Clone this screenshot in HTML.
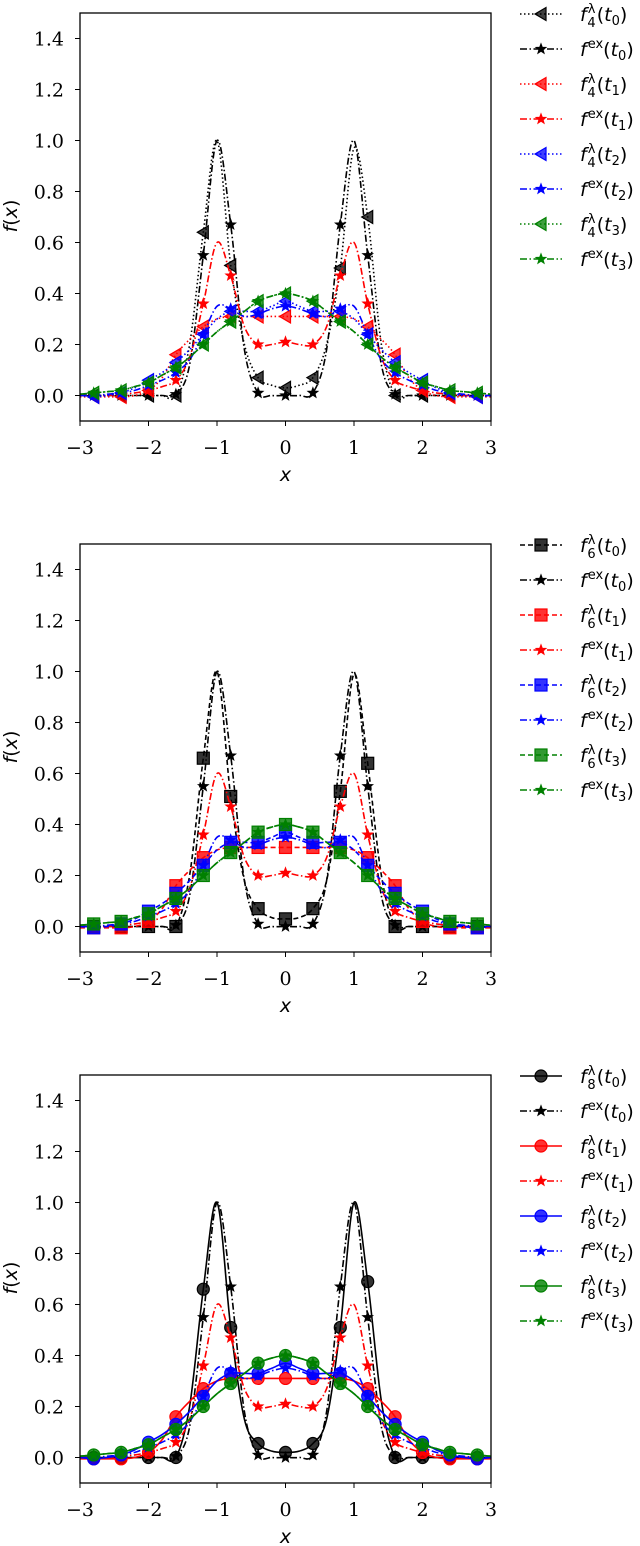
<!DOCTYPE html>
<html><head><meta charset="utf-8"><style>
body{margin:0;background:#fff}
svg{display:block}
.tick{font-family:"DejaVu Serif","Liberation Serif",serif;font-size:19px;fill:#000}
.leg{font-family:"DejaVu Sans","Liberation Sans",sans-serif;font-size:19px;fill:#000}
</style></head><body>
<svg id="fig" width="640" height="1546" viewBox="0 0 640 1546" xmlns="http://www.w3.org/2000/svg"></svg>
<script>
// x grid: -3 to 3 step 0.2 (31 values); markers on every other point (x=-2.8..2.8)
const xGrid = [-3,-2.8,-2.6,-2.4,-2.2,-2,-1.8,-1.6,-1.4,-1.2,-1,-0.8,-0.6,-0.4,-0.2,0,0.2,0.4,0.6,0.8,1,1.2,1.4,1.6,1.8,2,2.2,2.4,2.6,2.8,3];
const exT0 = [0,0,0,0,0,0,0,0.005,0.12,0.55,1.0,0.67,0.18,0.01,0,0,0,0.01,0.18,0.67,1.0,0.55,0.12,0.005,0,0,0,0,0,0,0];
const exT1 = [0,0,0,0.005,0.01,0.02,0.035,0.06,0.15,0.36,0.60,0.47,0.27,0.2,0.2,0.21,0.2,0.2,0.27,0.47,0.60,0.36,0.15,0.06,0.035,0.02,0.01,0.005,0,0,0];
const exT2 = [0,0,0.005,0.01,0.02,0.04,0.06,0.09,0.14,0.24,0.35,0.34,0.31,0.32,0.34,0.35,0.34,0.32,0.31,0.34,0.35,0.24,0.14,0.09,0.06,0.04,0.02,0.01,0.005,0,0];
const exT3 = [0.005,0.01,0.015,0.02,0.035,0.05,0.08,0.11,0.15,0.2,0.25,0.29,0.33,0.37,0.39,0.4,0.39,0.37,0.33,0.29,0.25,0.2,0.15,0.11,0.08,0.05,0.035,0.02,0.015,0.01,0.005];
const apT0p1 = [0,0,0,0,0,0,0,0,0.2,0.64,1.0,0.51,0.2,0.07,0.04,0.03,0.04,0.07,0.2,0.5,0.97,0.70,0.2,0,0,0,0,0,0,0,0];
const apT0p2 = [0,0,0,0,0,0,0,0,0.2,0.66,1.0,0.51,0.18,0.07,0.035,0.03,0.035,0.07,0.18,0.53,0.99,0.64,0.2,0,0,0,0,0,0,0,0];
const apT0p3 = [0,0,0,0,0,0,0,0,0.2,0.66,1.0,0.51,0.15,0.055,0.025,0.02,0.025,0.055,0.15,0.51,1.0,0.69,0.22,0,0,0,0,0,0,0,0];
const apT1 = [-0.005,-0.005,-0.005,-0.005,0,0.02,0.07,0.16,0.22,0.27,0.30,0.31,0.31,0.31,0.31,0.31,0.31,0.31,0.31,0.31,0.30,0.27,0.22,0.16,0.07,0.02,0,-0.005,-0.005,-0.005,-0.005];
const apT2 = [0,-0.005,0,0.01,0.03,0.06,0.09,0.13,0.18,0.24,0.3,0.33,0.33,0.33,0.35,0.37,0.35,0.33,0.33,0.33,0.3,0.24,0.18,0.13,0.09,0.06,0.03,0.01,0,-0.005,0];
const apT3 = [0.005,0.01,0.015,0.02,0.035,0.05,0.08,0.11,0.15,0.2,0.25,0.29,0.33,0.37,0.39,0.4,0.39,0.37,0.33,0.29,0.25,0.2,0.15,0.11,0.08,0.05,0.035,0.02,0.015,0.01,0.005];
const yTicks = [0,0.2,0.4,0.6,0.8,1.0,1.2,1.4];
const xTicks = [-3,-2,-1,0,1,2,3];
const yTickLabels = ["0.0","0.2","0.4","0.6","0.8","1.0","1.2","1.4"];
const xTickLabels = ["\u22123","\u22122","\u22121","0","1","2","3"];
const colors = ["#000000","#ff0000","#0000ff","#008000"];
const orders = ["4","6","8"];

const NS="http://www.w3.org/2000/svg";
const svg=document.getElementById('fig');
function mk(tag,attrs,parent){const e=document.createElementNS(NS,tag);for(const k in attrs)e.setAttribute(k,attrs[k]);(parent||svg).appendChild(e);return e;}

const L=80,R=491,H=408,Y0=-0.1,Y1=1.5;
const tops=[13,544,1075];
const panelCfg=[
 {ap:[apT0p1,apT1,apT2,apT3],dash:"1.5,2.5",marker:"tri"},
 {ap:[apT0p2,apT1,apT2,apT3],dash:"5,3",marker:"sq"},
 {ap:[apT0p3,apT1,apT2,apT3],dash:"",marker:"circ"}];
const exAll=[exT0,exT1,exT2,exT3];
const exDash="7,2.5,1.5,2.5";

function sx(x){return L+(x+3)/6*(R-L);}
function pathFrom(xs,ys,fx,fy){
 const P=xs.map((x,i)=>[fx(x),fy(ys[i])]);
 let d="M"+P[0][0].toFixed(2)+","+P[0][1].toFixed(2);
 for(let i=0;i<P.length-1;i++){
  const p0=P[Math.max(0,i-1)],p1=P[i],p2=P[i+1],p3=P[Math.min(P.length-1,i+2)];
  const c1=[p1[0]+(p2[0]-p0[0])/6,p1[1]+(p2[1]-p0[1])/6];
  const c2=[p2[0]-(p3[0]-p1[0])/6,p2[1]-(p3[1]-p1[1])/6];
  d+="C"+c1[0].toFixed(2)+","+c1[1].toFixed(2)+" "+c2[0].toFixed(2)+","+c2[1].toFixed(2)+" "+p2[0].toFixed(2)+","+p2[1].toFixed(2);
 }
 return d;
}
function starPts(cx,cy,r){let s="";for(let k=0;k<10;k++){const a=-Math.PI/2+k*Math.PI/5;const rr=k%2?r*0.42:r;s+=(cx+rr*Math.cos(a)).toFixed(2)+","+(cy+rr*Math.sin(a)).toFixed(2)+" ";}return s;}
function marker(g,type,cx,cy,col){
 let e;
 if(type==="star"){e=mk('polygon',{points:starPts(cx,cy,5.5),fill:col,stroke:col,'stroke-width':0.8},g);}
 else if(type==="tri"){e=mk('polygon',{points:(cx-6)+","+cy+" "+(cx+5)+","+(cy-6.5)+" "+(cx+5)+","+(cy+6.5),fill:col,'fill-opacity':0.75,stroke:col,'stroke-width':1.2},g);}
 else if(type==="sq"){e=mk('rect',{x:cx-6,y:cy-6,width:12,height:12,fill:col,'fill-opacity':0.8,stroke:col,'stroke-width':1.2},g);}
 else {e=mk('circle',{cx:cx,cy:cy,r:6,fill:col,'fill-opacity':0.8,stroke:col,'stroke-width':1.2},g);}
 return e;
}
function legendLabel(g,x,y,kind,sub,t){
 const tx=mk('text',{x:x,y:y,class:'leg'},g);
 const f=mk('tspan',{'font-style':'italic'},tx);f.textContent="f";
 if(kind==="ap"){
  const s1=mk('tspan',{'font-size':'13','dy':'-8','dx':'1'},tx);s1.textContent="\u03bb";
  const s2=mk('tspan',{'font-size':'13','dy':'14','dx':'-8'},tx);s2.textContent=sub;
  const p=mk('tspan',{'dy':'-6','dx':'1'},tx);p.textContent="(";
 } else {
  const s1=mk('tspan',{'font-size':'13','dy':'-8','dx':'1'},tx);s1.textContent="ex";
  const p=mk('tspan',{'dy':'8'},tx);p.textContent="(";
 }
 const ti=mk('tspan',{'font-style':'italic'},tx);ti.textContent="t";
 const ts=mk('tspan',{'font-size':'13','dy':'4'},tx);ts.textContent=String(t);
 const pc=mk('tspan',{'dy':'-4'},tx);pc.textContent=")";
 return tx;
}

panelCfg.forEach((cfg,pi)=>{
 const T=tops[pi];
 const sy=v=>T+(Y1-v)/(Y1-Y0)*H;
 const g=mk('g',{});
 
 
 const plot=mk('g',{'clip-path':'url(#clip'+pi+')'},g);
 
 
 const cp=mk('clipPath',{id:'clip'+pi},g);mk('rect',{x:L,y:T,width:R-L,height:H},cp);
 for(let t=0;t<4;t++){
  const col=colors[t];
  const ap=cfg.ap[t],ex=exAll[t];
  const pa=mk('path',{d:pathFrom(xGrid,ap,sx,sy),fill:'none',stroke:col,'stroke-width':1.6,'stroke-dasharray':cfg.dash},plot);
  
  
  const pe=mk('path',{d:pathFrom(xGrid,ex,sx,sy),fill:'none',stroke:col,'stroke-width':1.6,'stroke-dasharray':exDash},plot);
  
  
  for(let i=1;i<xGrid.length;i+=2){
   const m1=marker(plot,cfg.marker,sx(xGrid[i]),sy(ap[i]),col);
   
   
   const m2=marker(plot,'star',sx(xGrid[i]),sy(ex[i]),col);
   
   
  }
 }
 const fr=mk('rect',{x:L,y:T,width:R-L,height:H,fill:'none',stroke:'#000','stroke-width':1.3},g);
 
 
 yTicks.forEach((v,i)=>{
  mk('line',{x1:L-5,x2:L,y1:sy(v),y2:sy(v),stroke:'#000','stroke-width':1},g);
  const tx=mk('text',{x:L-16,y:sy(v)+7,'text-anchor':'end',class:'tick'},g);
  tx.textContent=yTickLabels[i];
  
  
 });
 xTicks.forEach((v,i)=>{
  mk('line',{x1:sx(v),x2:sx(v),y1:T+H,y2:T+H+5,stroke:'#000','stroke-width':1},g);
  const tx=mk('text',{x:sx(v),y:T+H+33,'text-anchor':'middle',class:'tick'},g);
  tx.textContent=xTickLabels[i];
  
  
 });
 const xl=mk('text',{x:(L+R)/2,y:T+H+60,'text-anchor':'middle',class:'leg','font-style':'italic'},g);
 xl.textContent="x";
 
 
 const yl=mk('text',{x:0,y:0,'text-anchor':'middle',class:'leg',transform:'translate(17,'+(T+H/2-1)+') rotate(-90)'},g);
 yl.innerHTML='<tspan font-style="italic">f</tspan>(<tspan font-style="italic">x</tspan>)';
 
 
 const lg=mk('g',{},g);
 
 
 for(let k=0;k<8;k++){
  const t=Math.floor(k/2),isAp=k%2===0,col=colors[t];
  const yy=T+1+k*35;
  const row=mk('g',{},lg);
  
  
  mk('line',{x1:520,x2:562,y1:yy,y2:yy,stroke:col,'stroke-width':1.6,'stroke-dasharray':isAp?cfg.dash:exDash},row);
  marker(row,isAp?cfg.marker:'star',541,yy,col);
  legendLabel(row,580,yy+7,isAp?'ap':'ex',orders[pi],t);
 }
});
</script>
</body></html>
